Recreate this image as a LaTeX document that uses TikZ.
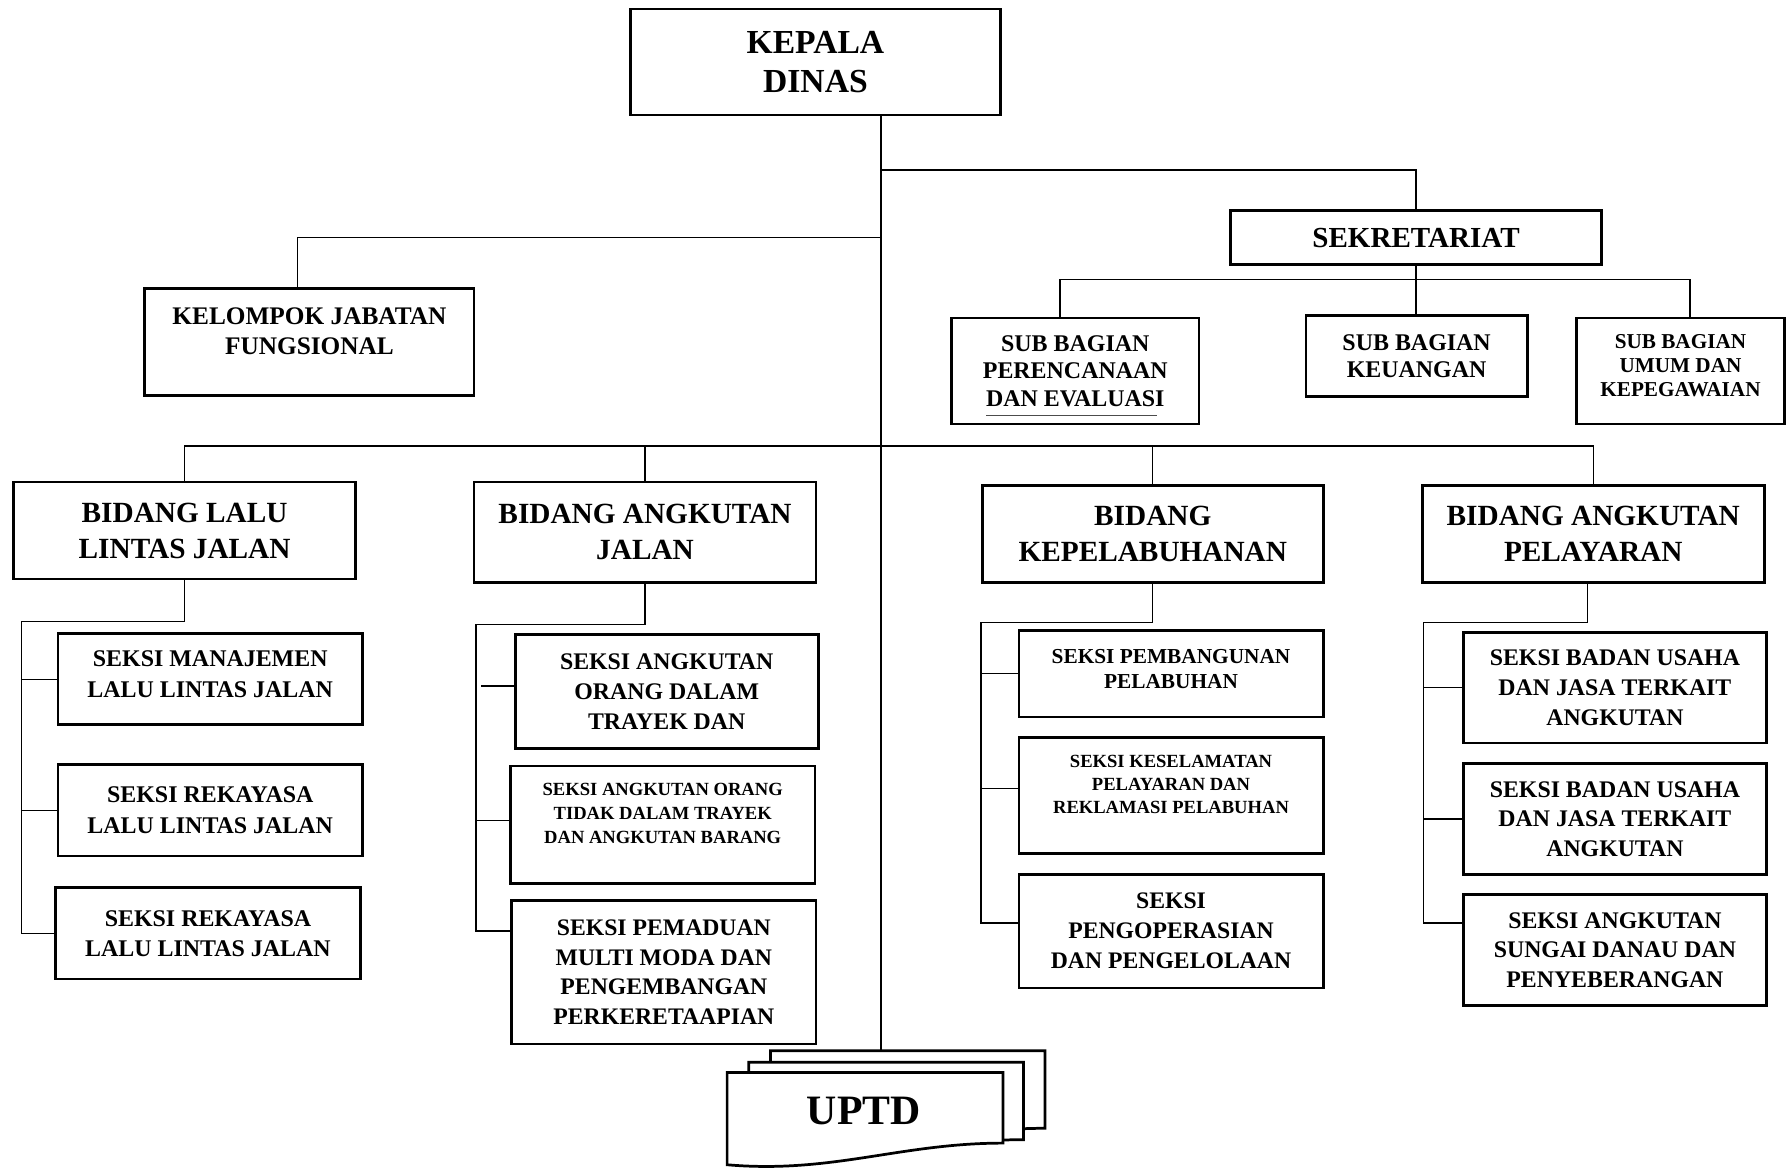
\documentclass[tikz,border=0pt]{standalone}
\usepackage{fontspec}
\setmainfont{Liberation Serif}
\usetikzlibrary{calc}
\tikzset{
	box/.style 2 args={draw, line width=1.2pt, minimum width=#1*0.5pt, minimum height=#2*0.5pt, inner sep=0pt, align=center},
	conn/.style={line width=0.6pt},
	fnt/.style 2 args={font=\bfseries\fontsize{#1}{#2}\selectfont}
}

\begin{document}
\begin{tikzpicture}[x=0.5pt,y=-0.5pt]
		\useasboundingbox (0,0) rectangle (1568,1024);

		% pimpinan, sekretariat, jabatan fungsional
		\node[box={325}{93},fnt={14.75}{17}] (kepala) at (715.5,54.5) {KEPALA\\DINAS};
		\node[box={325}{47},fnt={12.75}{15}] (sekre) at (1242.5,208.5) {SEKRETARIAT};
		\node[box={289}{94},fnt={11.1}{13.5},text depth=9.5pt] (kjf) at (271.5,300) {KELOMPOK JABATAN\\FUNGSIONAL};
		\node[box={217}{93},fnt={10.5}{12}] (sbpe) at (943.5,325.5) {SUB BAGIAN\\PERENCANAAN\\DAN EVALUASI};
		\node[box={194}{71},fnt={10.5}{12}] (sbku) at (1243,312.5) {SUB BAGIAN\\KEUANGAN};
		\node[box={183}{93},fnt={9.3}{10.5},text depth=4.5pt] (sbum) at (1474.5,325.5) {SUB BAGIAN\\UMUM DAN\\KEPEGAWAIAN};

		% bidang
		\node[box={300}{85},fnt={12.85}{15.75}] (bllj) at (162,465.5) {BIDANG LALU\\LINTAS JALAN};
		\node[box={300}{88},fnt={12.85}{15.75}] (baj) at (566,467) {BIDANG ANGKUTAN\\JALAN};
		\node[box={299}{85},fnt={12.85}{15.75}] (bkp) at (1011.5,468.5) {BIDANG\\KEPELABUHANAN};
		\node[box={300}{85},fnt={12.85}{15.75}] (bap) at (1398,468.5) {BIDANG ANGKUTAN\\PELAYARAN};

		% seksi
		\node[box={267}{80},fnt={10.5}{13.3},text depth=4.5pt] (s11) at (184.5,596) {SEKSI MANAJEMEN\\LALU LINTAS JALAN};
		\node[box={267}{80},fnt={10.5}{13.3}] (s12) at (184.5,711) {SEKSI REKAYASA\\LALU LINTAS JALAN};
		\node[box={267}{80},fnt={10.5}{13.3}] (s13) at (182.5,819) {SEKSI REKAYASA\\LALU LINTAS JALAN};

		\node[box={266}{100},fnt={10.45}{13.1}] (s21) at (585,607) {SEKSI ANGKUTAN\\ORANG DALAM\\TRAYEK DAN};
		\node[box={267}{103},fnt={8.15}{10.5},text depth=9.7pt] (s22) at (581.5,723.5) {SEKSI ANGKUTAN ORANG\\TIDAK DALAM TRAYEK\\DAN ANGKUTAN BARANG};
		\node[box={267}{126},fnt={10.4}{13}] (s23) at (582.5,853) {SEKSI PEMADUAN\\MULTI MODA DAN\\PENGEMBANGAN\\PERKERETAAPIAN};

		\node[box={267}{76},fnt={9.35}{11},text depth=4pt] (s31) at (1027.5,591) {SEKSI PEMBANGUNAN\\PELABUHAN};
		\node[box={267}{102},fnt={8.15}{10},text depth=10pt] (s32) at (1027.5,698) {SEKSI KESELAMATAN\\PELAYARAN DAN\\REKLAMASI PELABUHAN};
		\node[box={267}{100},fnt={10.4}{13.2}] (s33) at (1027.5,817) {SEKSI\\PENGOPERASIAN\\DAN PENGELOLAAN};

		\node[box={266}{97},fnt={10.45}{13}] (s41) at (1417,603.5) {SEKSI BADAN USAHA\\DAN JASA TERKAIT\\ANGKUTAN};
		\node[box={266}{97},fnt={10.45}{13}] (s42) at (1417,718.5) {SEKSI BADAN USAHA\\DAN JASA TERKAIT\\ANGKUTAN};
		\node[box={266}{97},fnt={10.45}{13}] (s43) at (1417,833.5) {SEKSI ANGKUTAN\\SUNGAI DANAU DAN\\PENYEBERANGAN};

		% uptd (tumpukan dokumen)
		\draw[line width=1.2pt,fill=white] (676,922) -- (917,922) -- (917,990) .. controls (840,990) and (760,1010) .. (676,1000) -- cycle;
		\draw[line width=1.2pt,fill=white] (657,932) -- (898,932) -- (898,1000) .. controls (820,1000) and (740,1020) .. (657,1010) -- cycle;
		\draw[line width=1.2pt,fill=white] (638,941) -- (880,941) -- (880,1003) .. controls (790,1003) and (730,1030) .. (638,1022) -- cycle;
		\node[fnt={18.35}{20}] (uptd) at (758,975) {UPTD};
		\coordinate (uptdtop) at (773,922);

		% garis
		\coordinate (trunk) at (kepala.south -| uptdtop);
		\coordinate (bus) at ($(trunk)+(0,289)$);
		\draw[conn] (trunk) -- (uptdtop);
		\draw[conn] ($(trunk)+(0,47)$) -| (sekre.north);
		\draw[conn] ($(trunk)+(0,106)$) -| ([xshift=-5.25pt]kjf.north);
		\draw[conn] (sekre.south) -- (sekre.south |- sbku.north);
		\draw[conn] ([xshift=-6.75pt]sbpe.north) |- ($(sekre.south)+(0,12)$) -| ([xshift=4.25pt]sbum.north);
		\draw[line width=0.5pt,black!70] ($(sbpe.south)+(-78,-9)$) -- ++(150,0);

		\draw[conn] (bllj.north) |- (bus) -| (bap.north);
		\draw[conn] (baj.north) -- (baj.north |- bus);
		\draw[conn] (bkp.north) -- (bkp.north |- bus);

		\draw[conn] (bllj.south) -- ++(0,36) -| ([xshift=-14.5pt]s13.west) -- (s13.west);
		\draw[conn] (s11.west) -- ++(-31,0);
		\draw[conn] (s12.west) -- ++(-31,0);

		\draw[conn] (baj.south) -- ++(0,36) -| ([xshift=-15pt,yshift=18pt]s23.west) -- ([yshift=18pt]s23.west);
		\draw[conn] ([yshift=2.5pt]s21.west) -- ++(-29,0);
		\draw[conn] ([yshift=1.75pt]s22.west) -- ++(-29,0);

		\draw[conn] (bkp.south) -- ++(0,34) -| ([xshift=-16pt,yshift=3.5pt]s33.west) -- ([yshift=3.5pt]s33.west);
		\draw[conn] (s31.west) -- ++(-32,0);
		\draw[conn] ([yshift=3pt]s32.west) -- ++(-32,0);

		\draw[conn] ([xshift=-2.5pt]bap.south) -- ++(0,34) -| ([xshift=-17pt,yshift=11.75pt]s43.west) -- ([yshift=11.75pt]s43.west);
		\draw[conn] (s41.west) -- ++(-34,0);
		\draw[conn] (s42.west) -- ++(-34,0);
\end{tikzpicture}
\end{document}
